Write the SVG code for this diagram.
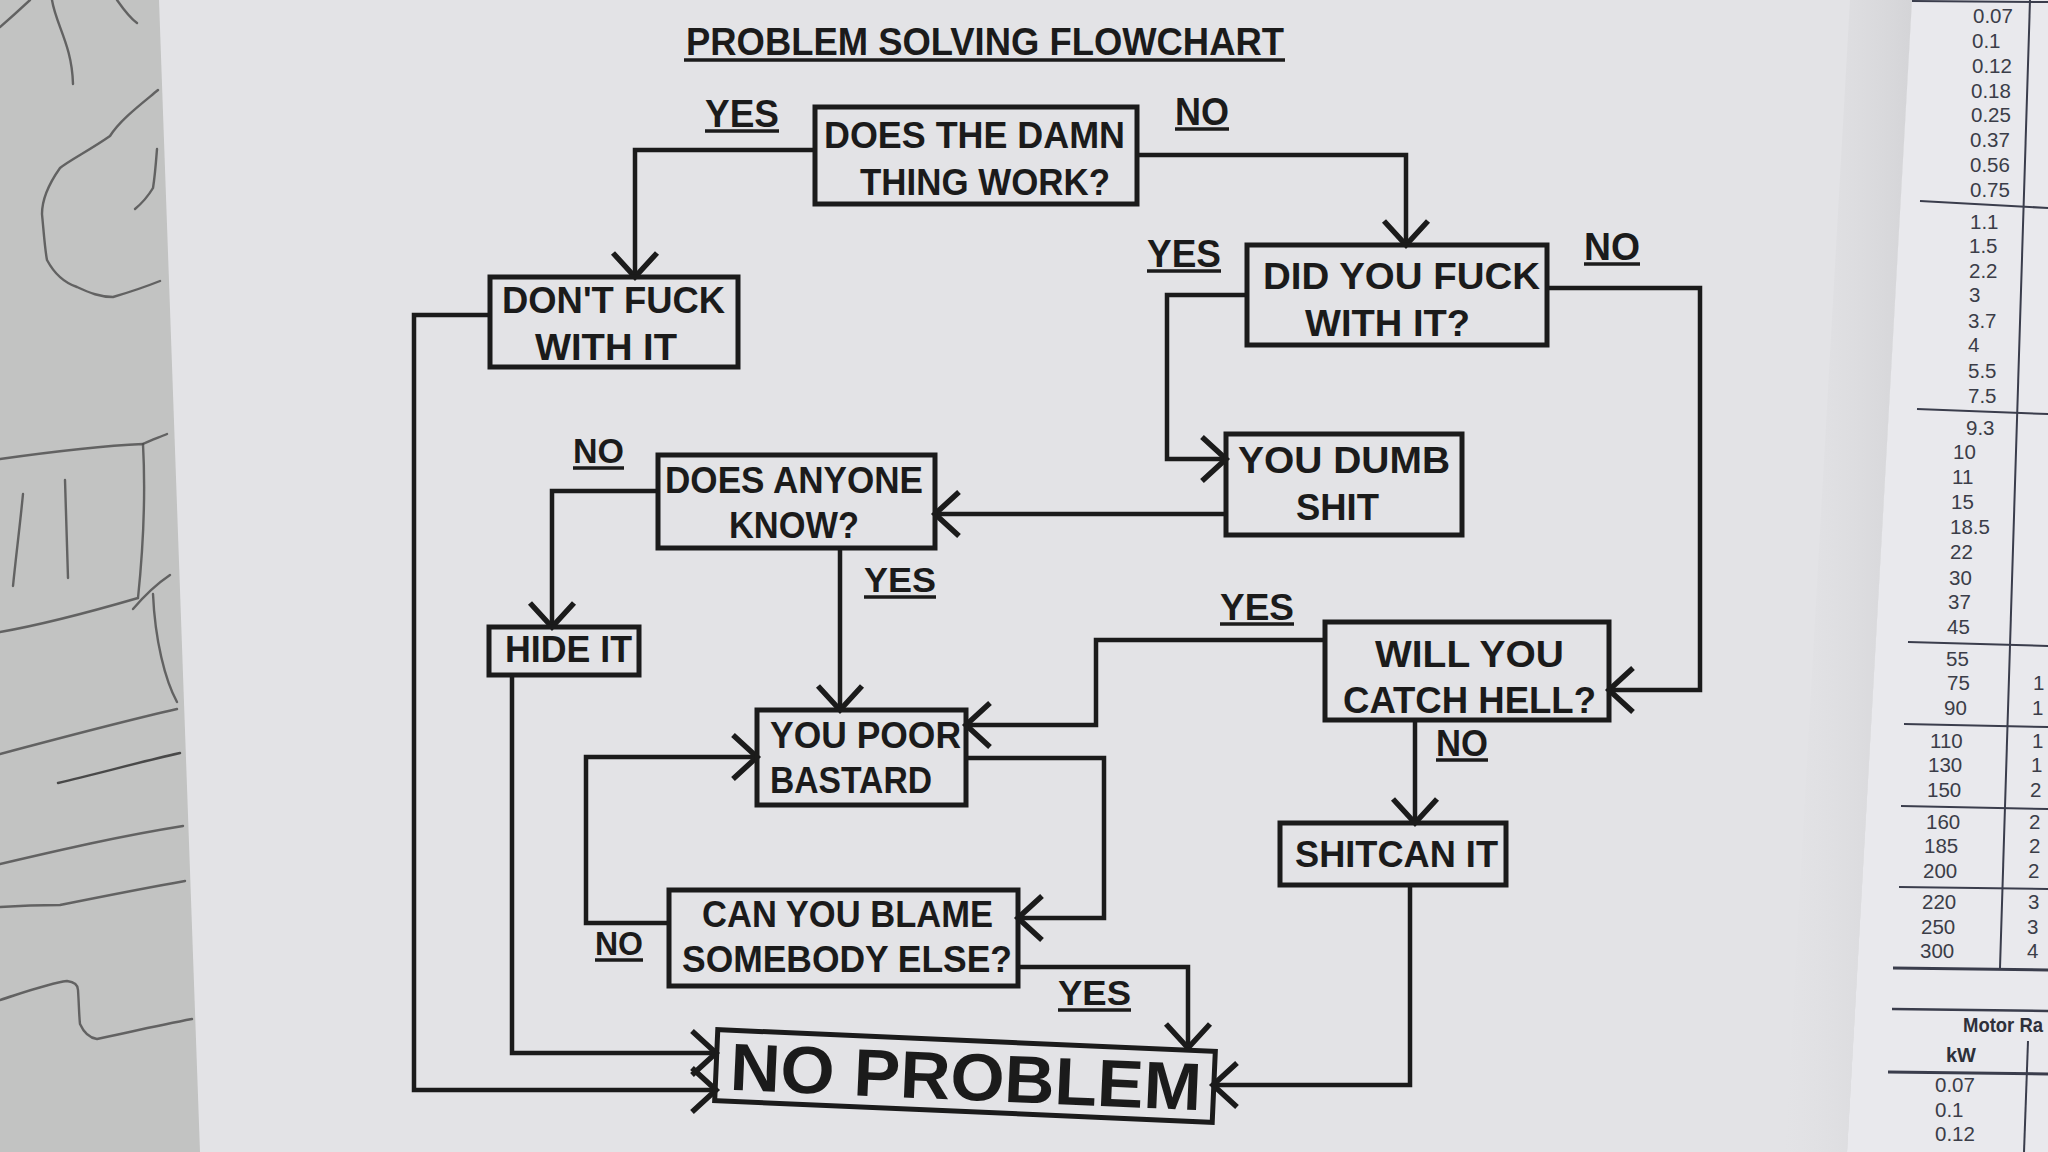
<svg xmlns="http://www.w3.org/2000/svg" width="2048" height="1152" viewBox="0 0 2048 1152">
<defs>
<style>
.box{fill:none;stroke:#1b1b1b;stroke-width:5}
.t{font-family:'Liberation Sans',Arial,sans-serif;font-weight:bold;fill:#1b1b1b;font-size:36px}
.lbl{font-family:'Liberation Sans',Arial,sans-serif;font-weight:bold;fill:#1b1b1b;font-size:38px}
.ul{stroke:#1b1b1b;stroke-width:3.5}
.c{fill:none;stroke:#1b1b1b;stroke-width:4.5;marker-end:url(#ah)}
.pen{fill:none;stroke:#4a4a4a;stroke-width:2.4;stroke-linecap:round;opacity:0.8}
.num{font-family:'Liberation Sans',Arial,sans-serif;font-size:20.5px;fill:#3b3d48}
.numb{font-family:'Liberation Sans',Arial,sans-serif;font-size:20px;font-weight:bold;fill:#2e303a}
.rule{stroke:#3a3d4c;stroke-width:2}
</style>
<marker id="ah" viewBox="0 0 40 60" refX="30" refY="30" markerWidth="40" markerHeight="60" markerUnits="userSpaceOnUse" orient="auto">
<path d="M6,8 L30,30 L6,52" fill="none" stroke="#1b1b1b" stroke-width="5.5"/>
</marker>
<linearGradient id="shade" x1="0" y1="0" x2="1" y2="0">
<stop offset="0" stop-color="#dcdcdf" stop-opacity="0"/>
<stop offset="1" stop-color="#d4d4d7" stop-opacity="1"/>
</linearGradient>
</defs>

<g id="background">
<rect x="0" y="0" width="2048" height="1152" fill="#c2c3c2"/>
<path class="pen" d="M0,27 Q15,14 30,0"/>
<path class="pen" d="M52,0 C56,25 72,45 73,84"/>
<path class="pen" d="M117,0 C124,10 130,18 137,23"/>
<path class="pen" d="M158,90 C140,105 120,120 110,136 C90,150 70,160 60,168 C48,185 42,200 42,214 C44,235 45,250 47,260 C55,275 65,283 77,287 C90,293 100,297 113,297 C130,292 145,287 160,281"/>
<path class="pen" d="M157,149 C156,162 155,176 153,188 C147,198 141,204 135,209"/>
<path class="pen" d="M0,459 C50,452 100,446 143,444 C146,500 143,550 138,598 C90,612 40,625 0,632"/>
<path class="pen" d="M143,444 C152,440 160,437 167,434"/>
<path class="pen" d="M23,494 C20,525 16,556 13,586"/>
<path class="pen" d="M65,480 C66,512 67,545 68,578"/>
<path class="pen" d="M153,594 C155,640 165,680 177,702"/>
<path class="pen" d="M133,609 C145,595 158,583 170,575"/>
<path class="pen" d="M0,754 C60,738 120,722 177,709"/>
<path class="pen" d="M58,783 C100,773 140,762 180,753" style="stroke:#2a2a2a"/>
<path class="pen" d="M0,864 C60,850 120,836 183,826"/>
<path class="pen" d="M0,907 C30,905 45,905 60,905 C100,897 145,888 185,881"/>
<path class="pen" d="M0,1000 C25,992 50,983 67,981 C75,982 78,985 78,990 C79,1005 79,1015 80,1024 C84,1033 90,1038 97,1039 C130,1032 160,1025 192,1019"/>
<polygon points="159,0 1912,0 1847,1152 200,1152" fill="#e3e3e6"/>
<polygon points="1850,0 1912,0 1847,1152 1785,1152" fill="url(#shade)"/>
<polygon points="1912,0 2048,0 2048,1152 1847,1152" fill="#e9e9ed"/>
</g>

<g id="table">
<line class="rule" x1="1912" y1="1" x2="2048" y2="2"/>
<line class="rule" x1="2030" y1="0" x2="2000" y2="968"/>
<line class="rule" x1="1920" y1="201" x2="2048" y2="208"/>
<line class="rule" x1="1917" y1="409" x2="2048" y2="414"/>
<line class="rule" x1="1908" y1="642" x2="2048" y2="646"/>
<line class="rule" x1="1904" y1="724" x2="2048" y2="727"/>
<line class="rule" x1="1901" y1="806" x2="2048" y2="809"/>
<line class="rule" x1="1899" y1="887" x2="2048" y2="889"/>
<line class="rule" x1="1893" y1="968" x2="2048" y2="970" style="stroke-width:3"/>
<line class="rule" x1="1892" y1="1009" x2="2048" y2="1011" style="stroke-width:2.5"/>
<line class="rule" x1="2028" y1="1041" x2="2024" y2="1152"/>
<line class="rule" x1="1888" y1="1072" x2="2048" y2="1074" style="stroke-width:3"/>
<text class="num" x="1973" y="23">0.07</text>
<text class="num" x="1972" y="48">0.1</text>
<text class="num" x="1972" y="73">0.12</text>
<text class="num" x="1971" y="98">0.18</text>
<text class="num" x="1971" y="122">0.25</text>
<text class="num" x="1970" y="147">0.37</text>
<text class="num" x="1970" y="172">0.56</text>
<text class="num" x="1970" y="197">0.75</text>
<text class="num" x="1970" y="229">1.1</text>
<text class="num" x="1969" y="253">1.5</text>
<text class="num" x="1969" y="278">2.2</text>
<text class="num" x="1969" y="302">3</text>
<text class="num" x="1968" y="328">3.7</text>
<text class="num" x="1968" y="352">4</text>
<text class="num" x="1968" y="378">5.5</text>
<text class="num" x="1968" y="403">7.5</text>
<text class="num" x="1966" y="435">9.3</text>
<text class="num" x="1953" y="459">10</text>
<text class="num" x="1952" y="484">11</text>
<text class="num" x="1951" y="509">15</text>
<text class="num" x="1950" y="534">18.5</text>
<text class="num" x="1950" y="559">22</text>
<text class="num" x="1949" y="585">30</text>
<text class="num" x="1948" y="609">37</text>
<text class="num" x="1947" y="634">45</text>
<text class="num" x="1946" y="666">55</text>
<text class="num" x="1947" y="690">75</text>
<text class="num" x="1944" y="715">90</text>
<text class="num" x="1930" y="748">110</text>
<text class="num" x="1928" y="772">130</text>
<text class="num" x="1927" y="797">150</text>
<text class="num" x="1926" y="829">160</text>
<text class="num" x="1924" y="853">185</text>
<text class="num" x="1923" y="878">200</text>
<text class="num" x="1922" y="909">220</text>
<text class="num" x="1921" y="934">250</text>
<text class="num" x="1920" y="958">300</text>
<text class="num" x="2033" y="690">1</text>
<text class="num" x="2032" y="715">1</text>
<text class="num" x="2032" y="748">1</text>
<text class="num" x="2031" y="772">1</text>
<text class="num" x="2030" y="797">2</text>
<text class="num" x="2029" y="829">2</text>
<text class="num" x="2029" y="853">2</text>
<text class="num" x="2028" y="878">2</text>
<text class="num" x="2028" y="909">3</text>
<text class="num" x="2027" y="934">3</text>
<text class="num" x="2027" y="958">4</text>
<text class="numb" x="1963" y="1032" textLength="80" lengthAdjust="spacingAndGlyphs">Motor Ra</text>
<text class="numb" x="1946" y="1062">kW</text>
<text class="num" x="1935" y="1092">0.07</text>
<text class="num" x="1935" y="1117">0.1</text>
<text class="num" x="1935" y="1141">0.12</text>
</g>

<g id="title">
<text class="t" x="686" y="55" textLength="598" lengthAdjust="spacingAndGlyphs" style="font-size:39px">PROBLEM SOLVING FLOWCHART</text>
<line class="ul" x1="684" y1="60" x2="1285" y2="60"/>
</g>

<g id="connectors">
<path class="c" d="M815,150 H635 V277"/>
<path class="c" d="M1137,155 H1406 V245"/>
<path class="c" d="M490,315 H414 V1090 H716"/>
<path class="c" d="M1247,295 H1167 V459 H1226"/>
<path class="c" d="M1547,288 H1700 V690 H1609"/>
<path class="c" d="M1226,514 H935"/>
<path class="c" d="M658,491 H552 V627"/>
<path class="c" d="M840,548 V710"/>
<path class="c" d="M512,675 V1053 H716"/>
<path class="c" d="M1325,640 H1096 V725 H966"/>
<path class="c" d="M1415,720 V823"/>
<path class="c" d="M1410,885 V1085 H1213"/>
<path class="c" d="M966,758 H1104 V918 H1018"/>
<path class="c" d="M669,923 H586 V757 H757"/>
<path class="c" d="M1018,967 H1188 V1048"/>
</g>

<g id="edge-labels">
<text class="lbl" x="705" y="127" textLength="74" lengthAdjust="spacingAndGlyphs">YES</text>
<line class="ul" x1="705" y1="131" x2="779" y2="131"/>
<text class="lbl" x="1175" y="125" textLength="54" lengthAdjust="spacingAndGlyphs">NO</text>
<line class="ul" x1="1175" y1="129" x2="1229" y2="129"/>
<text class="lbl" x="1147" y="267" textLength="74" lengthAdjust="spacingAndGlyphs">YES</text>
<line class="ul" x1="1147" y1="271" x2="1221" y2="271"/>
<text class="lbl" x="1584" y="260" textLength="56" lengthAdjust="spacingAndGlyphs">NO</text>
<line class="ul" x1="1584" y1="264" x2="1640" y2="264"/>
<text class="lbl" x="573" y="463" textLength="51" lengthAdjust="spacingAndGlyphs" style="font-size:35px">NO</text>
<line class="ul" x1="573" y1="468" x2="624" y2="468"/>
<text class="lbl" x="864" y="592" textLength="72" lengthAdjust="spacingAndGlyphs" style="font-size:35px">YES</text>
<line class="ul" x1="864" y1="597" x2="936" y2="597"/>
<text class="lbl" x="1220" y="620" textLength="74" lengthAdjust="spacingAndGlyphs" style="font-size:37px">YES</text>
<line class="ul" x1="1220" y1="624" x2="1294" y2="624"/>
<text class="lbl" x="1436" y="756" textLength="52" lengthAdjust="spacingAndGlyphs" style="font-size:37px">NO</text>
<line class="ul" x1="1436" y1="760" x2="1488" y2="760"/>
<text class="lbl" x="595" y="955" textLength="48" lengthAdjust="spacingAndGlyphs" style="font-size:33px">NO</text>
<line class="ul" x1="595" y1="960" x2="643" y2="960"/>
<text class="lbl" x="1058" y="1005" textLength="73" lengthAdjust="spacingAndGlyphs" style="font-size:35px">YES</text>
<line class="ul" x1="1058" y1="1010" x2="1131" y2="1010"/>
</g>

<g id="q-work">
<rect class="box" x="815" y="107" width="322" height="97"/>
<text class="t" x="824" y="148" textLength="301" lengthAdjust="spacingAndGlyphs">DOES THE DAMN</text>
<text class="t" x="860" y="195" textLength="250" lengthAdjust="spacingAndGlyphs">THING WORK?</text>
</g>

<g id="a-dont">
<rect class="box" x="490" y="277" width="248" height="90"/>
<text class="t" x="502" y="313" textLength="223" lengthAdjust="spacingAndGlyphs">DON'T FUCK</text>
<text class="t" x="535" y="360" textLength="142" lengthAdjust="spacingAndGlyphs">WITH IT</text>
</g>

<g id="q-fuck">
<rect class="box" x="1247" y="245" width="300" height="100"/>
<text class="t" x="1263" y="289" textLength="277" lengthAdjust="spacingAndGlyphs">DID YOU FUCK</text>
<text class="t" x="1305" y="336" textLength="165" lengthAdjust="spacingAndGlyphs">WITH IT?</text>
</g>

<g id="a-dumb">
<rect class="box" x="1226" y="434" width="236" height="101"/>
<text class="t" x="1238" y="473" textLength="212" lengthAdjust="spacingAndGlyphs">YOU DUMB</text>
<text class="t" x="1296" y="520" textLength="83" lengthAdjust="spacingAndGlyphs">SHIT</text>
</g>

<g id="q-know">
<rect class="box" x="658" y="455" width="277" height="93"/>
<text class="t" x="665" y="493" textLength="258" lengthAdjust="spacingAndGlyphs">DOES ANYONE</text>
<text class="t" x="729" y="538" textLength="130" lengthAdjust="spacingAndGlyphs">KNOW?</text>
</g>

<g id="a-hide">
<rect class="box" x="489" y="627" width="150" height="48"/>
<text class="t" x="505" y="662" textLength="127" lengthAdjust="spacingAndGlyphs">HIDE IT</text>
</g>

<g id="a-poor">
<rect class="box" x="757" y="710" width="209" height="95"/>
<text class="t" x="770" y="748" textLength="191" lengthAdjust="spacingAndGlyphs">YOU POOR</text>
<text class="t" x="770" y="793" textLength="162" lengthAdjust="spacingAndGlyphs">BASTARD</text>
</g>

<g id="q-hell">
<rect class="box" x="1325" y="622" width="284" height="98"/>
<text class="t" x="1375" y="667" textLength="189" lengthAdjust="spacingAndGlyphs">WILL YOU</text>
<text class="t" x="1343" y="713" textLength="253" lengthAdjust="spacingAndGlyphs">CATCH HELL?</text>
</g>

<g id="a-shitcan">
<rect class="box" x="1280" y="823" width="226" height="62"/>
<text class="t" x="1295" y="867" textLength="203" lengthAdjust="spacingAndGlyphs">SHITCAN IT</text>
</g>

<g id="q-blame">
<rect class="box" x="669" y="890" width="349" height="96"/>
<text class="t" x="702" y="927" textLength="291" lengthAdjust="spacingAndGlyphs">CAN YOU BLAME</text>
<text class="t" x="682" y="972" textLength="330" lengthAdjust="spacingAndGlyphs">SOMEBODY ELSE?</text>
</g>

<g id="a-noproblem" transform="rotate(2.5 965 1076)">
<rect class="box" x="716" y="1040.5" width="498" height="71"/>
<text class="t" x="730" y="1100" textLength="472" lengthAdjust="spacingAndGlyphs" style="font-size:67px">NO PROBLEM</text>
</g>
</svg>
